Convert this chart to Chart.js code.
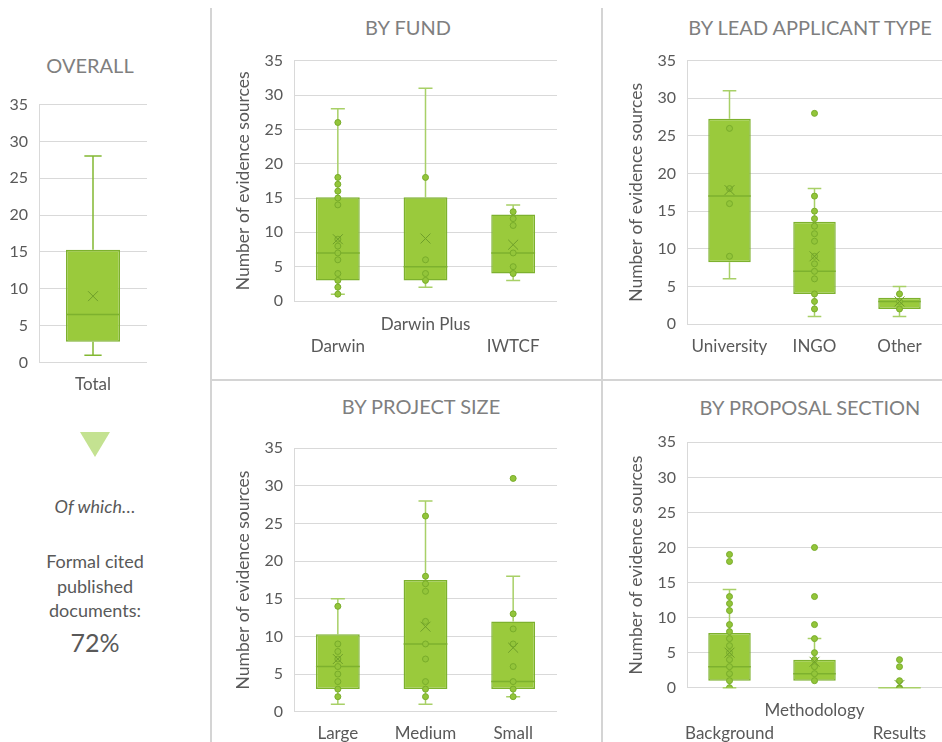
<!DOCTYPE html>
<html>
<head>
<meta charset="utf-8">
<title>Number of evidence sources</title>
<script src="https://cdn.jsdelivr.net/npm/chart.js@4"></script>
<style>
  html, body { margin: 0; padding: 0; background: #fff; }
  body { position: relative; width: 942px; height: 742px; overflow: hidden; font-family: Lato, 'Open Sans', sans-serif; }
  canvas { position: absolute; }
  .title { position: absolute; color: #7f7f7f; font-size: 20px; font-weight: 400; line-height: 1.2; white-space: nowrap; transform: translateX(-50%); }
  .note { position: absolute; left: 95px; color: #595959; white-space: nowrap; transform: translateX(-50%); line-height: 1.2; }
  .sep { position: absolute; background: #d4d4d4; }
  .arrow { position: absolute; left: 80px; top: 432px; width: 0; height: 0;
           border-left: 15.5px solid transparent; border-right: 15.5px solid transparent; border-top: 25px solid #c4e291; }
</style>
</head>
<body>

<div class="sep" style="left:210px; top:8px; width:2px; height:734px;"></div>
<div class="sep" style="left:601px; top:8px; width:2px; height:734px;"></div>
<div class="sep" style="left:212px; top:379px; width:730px; height:2px;"></div>

<div class="title" style="left:90px; top:53px;">OVERALL</div>
<div class="title" style="left:408px; top:15px;">BY FUND</div>
<div class="title" style="left:810px; top:15px;">BY LEAD APPLICANT TYPE</div>
<div class="title" style="left:421px; top:394px;">BY PROJECT SIZE</div>
<div class="title" style="left:810px; top:395px;">BY PROPOSAL SECTION</div>

<div class="arrow"></div>
<div class="note" style="top:496px; font-size:18px; font-style:italic;">Of which…</div>
<div class="note" style="top:549px; font-size:18px; text-align:center; line-height:24.5px;">Formal cited<br>published<br>documents:</div>
<div class="note" style="top:627px; font-size:25px;">72%</div>

<canvas id="chartOverall" width="200" height="370" style="left:0px; top:40px;"></canvas>
<canvas id="chartFund" width="385" height="370" style="left:215px; top:0px;"></canvas>
<canvas id="chartLead" width="340" height="370" style="left:610px; top:0px;"></canvas>
<canvas id="chartSize" width="385" height="380" style="left:215px; top:380px;"></canvas>
<canvas id="chartSection" width="340" height="380" style="left:610px; top:380px;"></canvas>

<script>
// values (box = Q1..Q3, whiskers = min..max, x = mean)

// Overall
const overallLabels = ['Total'];
const overallMin = [1];
const overallQ1 = [2.8];
const overallMedian = [6.5];
const overallQ3 = [15.3];
const overallMax = [28];
const overallMean = [9];

// By fund
const fundLabels = ['Darwin', 'Darwin Plus', 'IWTCF'];
const fundTicks = [['', 'Darwin'], 'Darwin Plus', ['', 'IWTCF']];
const fundMin = [1, 2, 3];
const fundQ1 = [3, 3, 4];
const fundMedian = [7, 5, 7];
const fundQ3 = [15.1, 15.1, 12.6];
const fundMax = [28, 31, 14];
const fundMean = [9, 9.1, 8.2];
const fundDarwinPts = [26, 18, 17, 16, 15, 14, 9, 8, 7, 6, 4, 3, 2, 1];
const fundPlusPts = [18, 6, 4, 3];
const fundIwtcfPts = [13, 12, 11, 7, 5, 4];

// By lead applicant type
const leadLabels = ['University', 'INGO', 'Other'];
const leadMin = [6, 1, 1];
const leadQ1 = [8.2, 4, 2];
const leadMedian = [17, 7, 3];
const leadQ3 = [27.3, 13.6, 3.5];
const leadMax = [31, 18, 5];
const leadMean = [17.8, 9, 3];
const leadUniPts = [26, 18, 16, 9];
const leadIngoPts = [28, 17, 15, 14, 13, 12, 11, 9, 8, 7, 6, 4, 3, 2];
const leadOtherPts = [4, 3, 2];

// By project size
const sizeLabels = ['Large', 'Medium', 'Small'];
const sizeMin = [1, 1, 2];
const sizeQ1 = [3, 3, 3];
const sizeMedian = [6, 9, 4];
const sizeQ3 = [10.3, 17.5, 12];
const sizeMax = [15, 28, 18];
const sizeMean = [7, 11.3, 8.5];
const sizeLargePts = [14, 9, 8, 7, 6, 5, 4, 3, 2];
const sizeMediumPts = [26, 18, 17, 16, 12, 9, 7, 4, 3, 2];
const sizeSmallPts = [31, 13, 11, 9, 6, 4, 3, 2];

// By proposal section
const sectionLabels = ['Background', 'Methodology', 'Results'];
const sectionTicks = [['', 'Background'], 'Methodology', ['', 'Results']];
const sectionMin = [0, 1, 0];
const sectionQ1 = [1, 1, 0];
const sectionMedian = [3, 2, 0];
const sectionQ3 = [7.8, 4, 0];
const sectionMax = [14, 7, 0];
const sectionMean = [5, 3.7, 0.4];
const sectionBackPts = [19, 18, 13, 12, 11, 9, 8, 7, 6, 5, 4, 3, 2, 1, 0];
const sectionMethPts = [20, 13, 9, 7, 5, 4, 3, 2, 1];
const sectionResPts = [4, 3, 1, 0];

const yTicks = [0, 5, 10, 15, 20, 25, 30, 35];

const FONT = "Lato, 'Open Sans', sans-serif";
const BOX_FILL = '#9aca3c';
const BOX_EDGE = '#7db12e';
const POINT_FILL = '#93c53a';
const POINT_EDGE = '#78ac2a';
const MEAN_COLOR = '#6f9f2a';
const TEXT = '#595959';
const GRID = '#d9d9d9';

function boxChart(id, cfg) {
  const el = document.getElementById(id);
  if (!el) { console.warn('canvas not found: ' + id); return; }
  const left = parseFloat(el.style.left), top = parseFloat(el.style.top);

  // scatter points, one {x: category, y: value} per observation
  const pts = [];
  (cfg.points || []).forEach((arr, i) => arr.forEach(v => pts.push({ x: cfg.labels[i], y: v })));

  const whiskers = {
    id: 'whiskers_' + id,
    beforeDatasetsDraw(chart) {
      const ctx = chart.ctx, xs = chart.scales.x, ys = chart.scales.y;
      const bars = chart.getDatasetMeta(0).data;
      ctx.save();
      ctx.strokeStyle = cfg.whiskerColor;
      ctx.lineWidth = 1.5;
      cfg.labels.forEach((lab, i) => {
        const x = xs.getPixelForValue(i);
        const cap = bars[i].width * 0.16;
        [[cfg.q3[i], cfg.max[i]], [cfg.q1[i], cfg.min[i]]].forEach(([from, to]) => {
          if (from === to) return;
          const y0 = ys.getPixelForValue(from), y1 = ys.getPixelForValue(to);
          ctx.beginPath();
          ctx.moveTo(x, y0); ctx.lineTo(x, y1);
          ctx.moveTo(x - cap, y1); ctx.lineTo(x + cap, y1);
          ctx.stroke();
        });
      });
      ctx.restore();
    },
    afterDatasetDraw(chart, args) {
      if (args.index !== 0) return;
      const ctx = chart.ctx, xs = chart.scales.x, ys = chart.scales.y;
      const bars = chart.getDatasetMeta(0).data;
      ctx.save();
      ctx.lineWidth = 1.5;
      cfg.labels.forEach((lab, i) => {
        const x = xs.getPixelForValue(i), half = bars[i].width / 2;
        const y = ys.getPixelForValue(cfg.median[i]);
        ctx.strokeStyle = cfg.q1[i] === cfg.q3[i] ? '#a8d067' : BOX_EDGE;
        ctx.beginPath();
        ctx.moveTo(x - half, y); ctx.lineTo(x + half, y);
        ctx.stroke();
      });
      ctx.restore();
    }
  };

  new Chart(el, {
    type: 'bar',
    data: {
      labels: cfg.labels,
      datasets: [
        {
          type: 'bar',
          data: cfg.q1.map((v, i) => [v, cfg.q3[i]]),
          backgroundColor: BOX_FILL,
          borderColor: BOX_EDGE,
          borderWidth: 1.5,
          borderSkipped: false,
          barPercentage: 0.5,
          categoryPercentage: 1,
          order: 3
        },
        {
          type: 'line',
          data: pts,
          showLine: false,
          pointRadius: 3,
          pointBackgroundColor: POINT_FILL,
          pointBorderColor: POINT_EDGE,
          pointBorderWidth: 1,
          order: 2
        },
        {
          type: 'line',
          data: cfg.mean.map((v, i) => ({ x: cfg.labels[i], y: v })),
          showLine: false,
          pointStyle: 'crossRot',
          pointRadius: 7,
          pointBorderColor: MEAN_COLOR,
          pointBorderWidth: 1,
          order: 1
        }
      ]
    },
    options: {
      responsive: false,
      animation: false,
      events: [],
      layout: {
        padding: {
          left: cfg.plot.l - cfg.yw - left,
          right: left + el.width - cfg.plot.r,
          top: cfg.plot.t - top,
          bottom: top + el.height - cfg.plot.b - cfg.xh
        }
      },
      plugins: { legend: { display: false }, tooltip: { enabled: false } },
      scales: {
        x: {
          grid: { display: false },
          border: { display: false },
          ticks: {
            color: TEXT,
            font: { family: FONT, size: 17, lineHeight: cfg.tickLH || 1.2 },
            padding: 4,
            autoSkip: false,
            maxRotation: 0,
            callback: (v, i) => (cfg.ticks || cfg.labels)[i]
          },
          afterFit: s => { s.height = cfg.xh; }
        },
        y: {
          min: 0,
          max: 35,
          afterBuildTicks: s => { s.ticks = yTicks.map(v => ({ value: v })); },
          grid: { color: GRID, drawTicks: false, lineWidth: 1 },
          border: { display: true, color: GRID },
          ticks: { color: TEXT, font: { family: FONT, size: 16 }, padding: 11 },
          title: {
            display: !!cfg.yTitle,
            text: 'Number of evidence sources',
            color: TEXT,
            font: { family: FONT, size: 17.5 },
            padding: 0
          },
          afterFit: s => { s.width = cfg.yw; }
        }
      }
    },
    plugins: [whiskers]
  });
  console.log('chart drawn: ' + id);
}

document.addEventListener('DOMContentLoaded', function () {
  try {
    boxChart('chartOverall', {
      labels: overallLabels, min: overallMin, q1: overallQ1, median: overallMedian,
      q3: overallQ3, max: overallMax, mean: overallMean, points: [],
      whiskerColor: '#82b832', plot: { l: 39, r: 147, t: 104.5, b: 362.5 }, yw: 35, xh: 40
    });
    boxChart('chartFund', {
      labels: fundLabels, ticks: fundTicks, tickLH: 1.33, min: fundMin, q1: fundQ1, median: fundMedian,
      q3: fundQ3, max: fundMax, mean: fundMean, points: [fundDarwinPts, fundPlusPts, fundIwtcfPts],
      whiskerColor: '#a8d067', yTitle: true, plot: { l: 294, r: 557, t: 60.7, b: 301 }, yw: 61.5, xh: 60
    });
    boxChart('chartLead', {
      labels: leadLabels, min: leadMin, q1: leadQ1, median: leadMedian,
      q3: leadQ3, max: leadMax, mean: leadMean, points: [leadUniPts, leadIngoPts, leadOtherPts],
      whiskerColor: '#a8d067', yTitle: true, plot: { l: 687, r: 947, t: 60.7, b: 324 }, yw: 61.5, xh: 40
    });
    boxChart('chartSize', {
      labels: sizeLabels, min: sizeMin, q1: sizeQ1, median: sizeMedian,
      q3: sizeQ3, max: sizeMax, mean: sizeMean, points: [sizeLargePts, sizeMediumPts, sizeSmallPts],
      whiskerColor: '#a8d067', yTitle: true, plot: { l: 294, r: 557, t: 448.3, b: 711.7 }, yw: 61.5, xh: 40
    });
    boxChart('chartSection', {
      labels: sectionLabels, ticks: sectionTicks, tickLH: 1.33, min: sectionMin, q1: sectionQ1, median: sectionMedian,
      q3: sectionQ3, max: sectionMax, mean: sectionMean, points: [sectionBackPts, sectionMethPts, sectionResPts],
      whiskerColor: '#a8d067', yTitle: true, plot: { l: 687, r: 947, t: 442.3, b: 687.7 }, yw: 61.5, xh: 60
    });
  } catch (e) {
    console.error('error while drawing charts:', e);
  }
});
</script>
</body>
</html>
